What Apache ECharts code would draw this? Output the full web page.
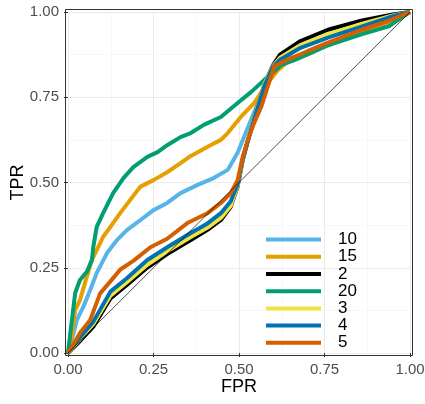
<!DOCTYPE html>
<html>
<head>
<meta charset="utf-8">
<script src="https://cdn.jsdelivr.net/npm/echarts@6/dist/echarts.min.js"></script>
<style>
  html, body { margin: 0; padding: 0; background: #fff; }
  #rocChart { width: 425px; height: 404px; }
</style>
</head>
<body>
<div id="rocChart"></div>
<script>
// ROC curves, one per group, [FPR, TPR]
let groups = ['10', '15', '2', '20', '3', '4', '5'];
let colors = ['#56B4E9', '#E69F00', '#000000', '#009E73', '#F0E442', '#0072B2', '#D55E00'];

let roc10 = [[0,0],[0.011,0.038],[0.026,0.097],[0.045,0.136],[0.065,0.185],[0.084,0.235],[0.114,0.293],[0.143,0.331],
    [0.173,0.361],[0.212,0.39],[0.25,0.419],[0.29,0.44],[0.329,0.469],[0.379,0.493],[0.426,0.513],[0.467,0.537],
    [0.496,0.587],[0.515,0.634],[0.535,0.683],[0.559,0.742],[0.584,0.801],[0.603,0.84],[0.63,0.858],[0.7,0.88],
    [0.76,0.905],[0.86,0.94],[0.94,0.97],[1,1]];
let roc15 = [[0,0],[0.011,0.048],[0.021,0.126],[0.035,0.155],[0.055,0.224],[0.07,0.273],[0.084,0.302],[0.103,0.341],
    [0.124,0.37],[0.153,0.411],[0.182,0.449],[0.212,0.488],[0.25,0.507],[0.29,0.53],[0.329,0.557],[0.359,0.578],
    [0.418,0.61],[0.447,0.625],[0.467,0.645],[0.506,0.693],[0.544,0.733],[0.584,0.792],[0.614,0.83],[0.64,0.852],
    [0.7,0.875],[0.76,0.902],[0.86,0.94],[0.94,0.968],[1,1]];
let roc2 = [[0,0],[0.03,0.03],[0.074,0.077],[0.124,0.16],[0.173,0.2],[0.231,0.25],[0.29,0.29],[0.359,0.331],
    [0.408,0.361],[0.447,0.39],[0.476,0.429],[0.496,0.488],[0.511,0.566],[0.529,0.634],[0.55,0.71],[0.575,0.79],
    [0.6,0.845],[0.62,0.875],[0.68,0.915],[0.76,0.948],[0.86,0.975],[0.95,0.993],[1,1]];
let roc20 = [[0,0],[0.009,0.076],[0.014,0.117],[0.021,0.176],[0.035,0.214],[0.055,0.238],[0.07,0.273],[0.074,0.311],
    [0.084,0.37],[0.103,0.411],[0.132,0.469],[0.162,0.513],[0.191,0.545],[0.232,0.575],[0.262,0.589],[0.291,0.61],
    [0.329,0.633],[0.359,0.645],[0.397,0.669],[0.447,0.692],[0.496,0.733],[0.535,0.765],[0.574,0.801],[0.603,0.826],
    [0.624,0.845],[0.662,0.859],[0.753,0.9],[0.86,0.935],[0.938,0.958],[0.976,0.984],[1,1]];
let roc3 = [[0,0],[0.03,0.035],[0.074,0.085],[0.124,0.168],[0.173,0.208],[0.231,0.258],[0.29,0.298],[0.359,0.34],
    [0.408,0.368],[0.447,0.396],[0.476,0.432],[0.496,0.49],[0.511,0.568],[0.529,0.636],[0.55,0.71],[0.575,0.79],
    [0.6,0.842],[0.62,0.866],[0.68,0.903],[0.76,0.935],[0.86,0.966],[0.95,0.99],[1,1]];
let roc4 = [[0,0],[0.03,0.04],[0.074,0.092],[0.124,0.18],[0.173,0.22],[0.231,0.272],[0.29,0.31],[0.359,0.352],
    [0.408,0.38],[0.447,0.41],[0.476,0.445],[0.496,0.495],[0.511,0.57],[0.529,0.632],[0.55,0.705],[0.575,0.785],
    [0.6,0.84],[0.62,0.86],[0.68,0.895],[0.76,0.925],[0.86,0.958],[0.95,0.988],[1,1]];
let roc5 = [[0,0],[0.006,0.009],[0.035,0.059],[0.065,0.097],[0.094,0.175],[0.124,0.21],[0.153,0.245],[0.191,0.27],
    [0.241,0.31],[0.29,0.335],[0.349,0.381],[0.408,0.41],[0.447,0.44],[0.476,0.469],[0.496,0.507],[0.511,0.576],
    [0.526,0.625],[0.544,0.674],[0.565,0.722],[0.584,0.781],[0.603,0.84],[0.63,0.855],[0.7,0.885],[0.76,0.91],
    [0.86,0.948],[0.94,0.975],[1,1]];
let rocData = [roc10, roc15, roc2, roc20, roc3, roc4, roc5];
let diagonal = [[0,0],[1,1]];

var rocChart = echarts.init(document.getElementById('rocChart'));
let font = 'Liberation Sans, Arial, sans-serif';

let axisCommon = {
    type: 'value',
    min: 0,
    max: 1,
    interval: 0.25,
    offset: 3,
    nameLocation: 'middle',
    nameMoveOverlap: false,
    nameTextStyle: { color: '#000', fontSize: 18, fontFamily: font },
    axisLine: { show: false },
    axisTick: { show: true, length: 4, lineStyle: { color: '#333333' } },
    axisLabel: {
        color: '#4D4D4D',
        fontSize: 15,
        fontFamily: font,
        margin: 6,
        formatter: v => v.toFixed(2)
    },
    splitLine: { show: true, lineStyle: { color: '#EBEBEB', width: 1 } },
    minorTick: { show: false, splitNumber: 2 },
    minorSplitLine: { show: true, lineStyle: { color: '#F2F2F2', width: 0.6 } }
};

let series = groups.map((g, i) => ({
    name: g,
    type: 'line',
    data: rocData[i],
    showSymbol: false,
    color: colors[i],
    lineStyle: { width: 4, color: colors[i] },
    z: 3 + i
}));
// reference diagonal
series.push({
    name: 'diag',
    type: 'line',
    data: diagonal,
    showSymbol: false,
    color: '#000',
    lineStyle: { width: 0.7, color: '#000' },
    z: 10
});

option = {
    backgroundColor: '#fff',
    animation: false,
    grid: { left: 68, right: 15, top: 12, bottom: 51, outerBoundsMode: 'none' },
    xAxis: Object.assign({}, axisCommon, { name: 'FPR', nameGap: 22 }),
    yAxis: Object.assign({}, axisCommon, { name: 'TPR', nameGap: 38, nameRotate: 90 }),
    legend: {
        data: groups,
        orient: 'vertical',
        left: 261,
        top: 226,
        icon: 'rect',
        itemWidth: 55,
        itemHeight: 4,
        itemGap: 0,
        textStyle: { color: '#000', fontSize: 17, fontFamily: font, lineHeight: 17.2, padding: [0, 0, 0, 12] }
    },
    graphic: [{
        type: 'rect',
        shape: { x: 65.5, y: 9.5, width: 347, height: 346 },
        style: { fill: 'none', stroke: '#333333', lineWidth: 1 },
        z: 100
    }],
    series: series
};
rocChart.setOption(option);
</script>
</body>
</html>
